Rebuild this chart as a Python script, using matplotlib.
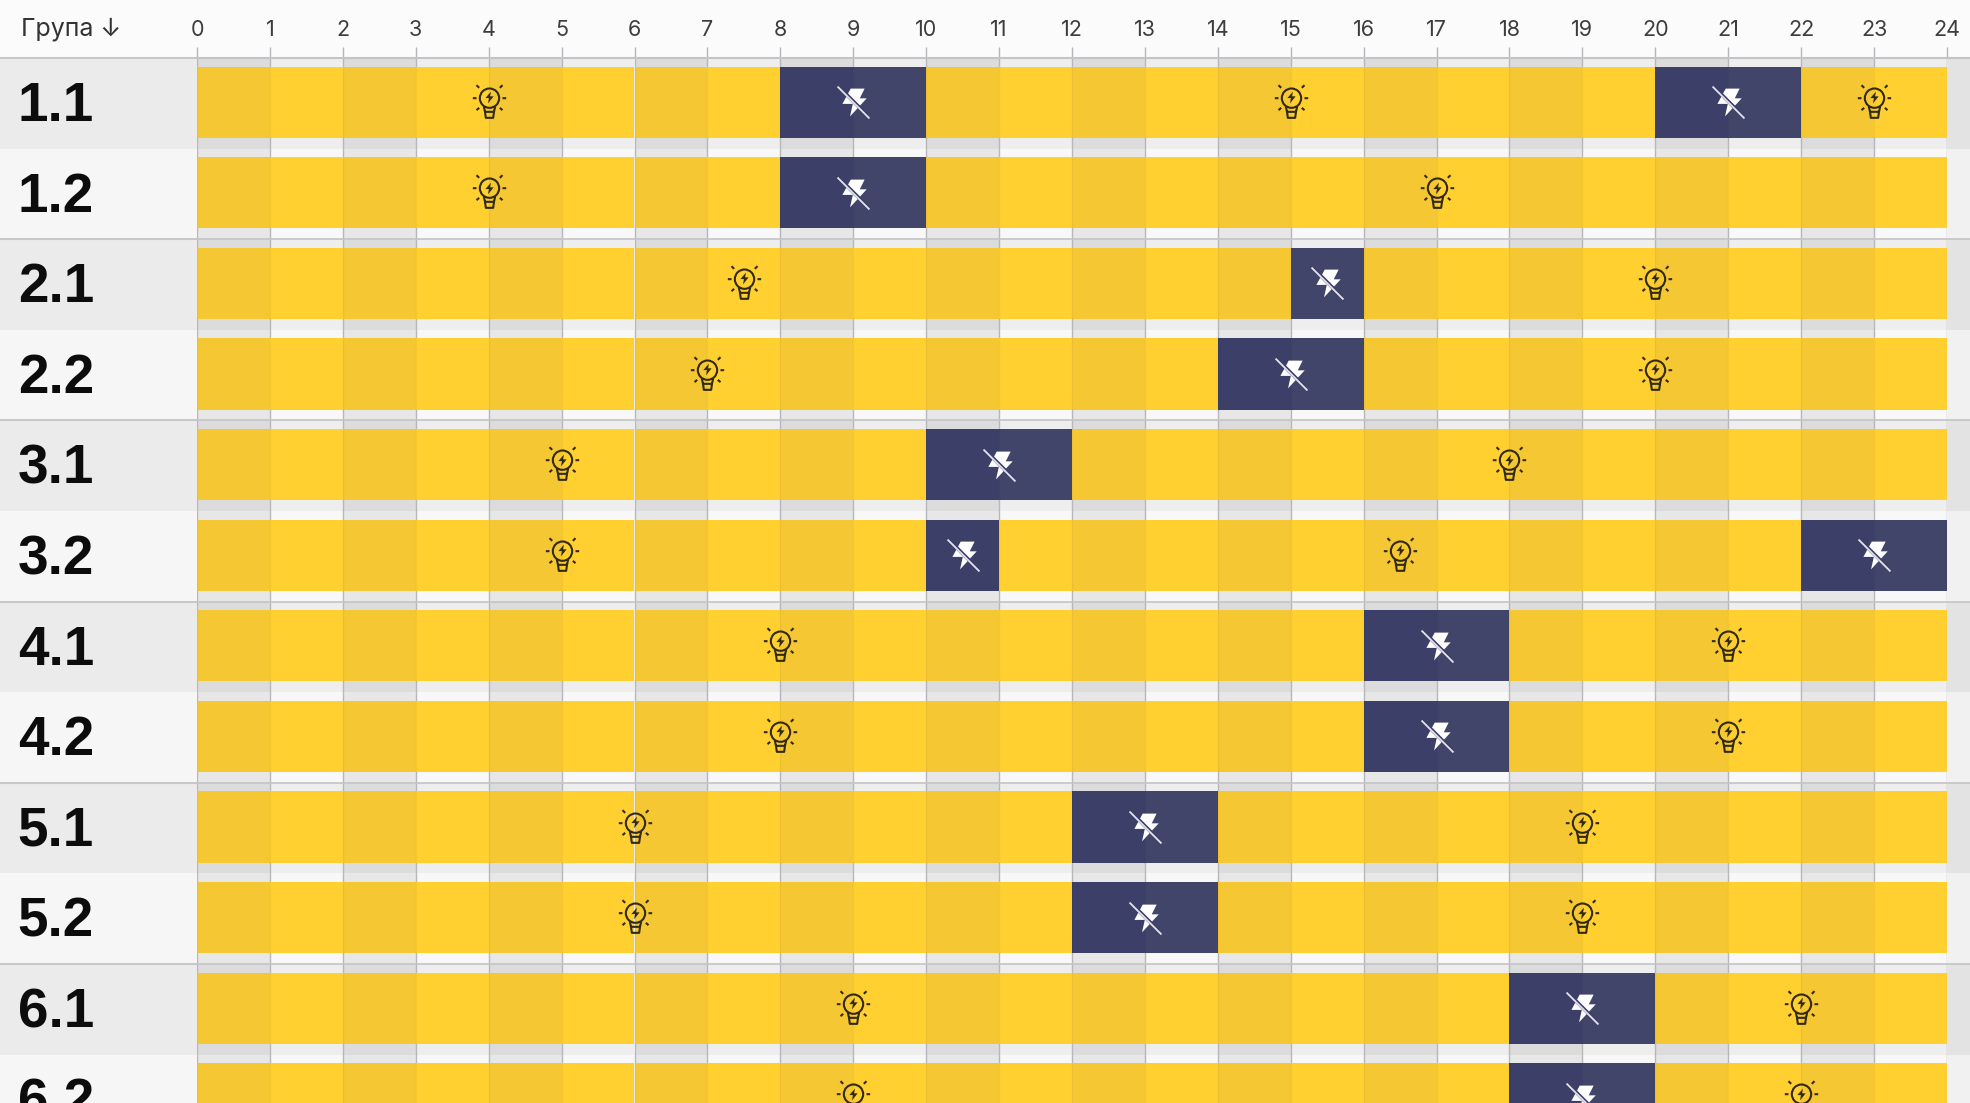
import matplotlib
matplotlib.use("Agg")
import matplotlib.pyplot as plt
from matplotlib.path import Path

plt.rcParams['font.family'] = ['Inter', 'Liberation Sans', 'DejaVu Sans']

groups = ["1.1","1.2","2.1","2.2","3.1","3.2","4.1","4.2","5.1","5.2","6.1","6.2"]
hours = list(range(25))
outages = [[(8,10),(20,22)], [(8,10)], [(15,16)], [(14,16)], [(10,12)], [(10,11),(22,24)],
           [(16,18)], [(16,18)], [(12,14)], [(12,14)], [(18,20)], [(18,20)]]
outage_icons = [[9,21],[9],[15.5],[15],[11],[10.5,23],[17],[17],[13],[13],[19],[19]]
power_icons = [[4,15,23],[4,17],[7.5,20],[7,20],[5,18],[5,16.5],[8,21],[8,21],[6,19],[6,19],[9,22],[9,22]]

W, H = 1970, 1103
LEFT, RIGHT, TOP = 197, 1947, 58
ROW_PX = 90.6
fig = plt.figure(figsize=(W/100, H/100), dpi=100, facecolor='#fbfbfb')
ax = fig.add_axes([LEFT/W, 0, (RIGHT-LEFT)/W, (H-TOP)/H])
ax.set_facecolor('none')
ax.set_xlim(0, 24)
n_vis = (H-TOP)/ROW_PX
ax.set_ylim(n_vis, 0)
for s in ax.spines.values():
    s.set_visible(False)

row_left = ['#ebebeb', '#f6f6f6']
row_right = ['#e3e3e3', '#f1f1f1']
cell_even = ['#dcdcdc', '#e7e7e7']
cell_odd = ['#eeeeee', '#f8f8f9']
x_px = (RIGHT-LEFT)/24
left_h = LEFT/x_px
right_h = (W-RIGHT)/x_px
BAR_TOP, BAR_H = 0.096, 0.784

for r, g in enumerate(groups):
    a = r % 2
    ax.barh(r+0.5, left_h, height=1, left=-left_h, color=row_left[a], clip_on=False, zorder=1)
    ax.barh(r+0.5, right_h, height=1, left=24, color=row_right[a], clip_on=False, zorder=1)
    for h in hours[:-1]:
        ax.barh(r+0.5, 1, height=1, left=h, color=(cell_even if h % 2 == 0 else cell_odd)[a], zorder=1, linewidth=0)

ax.set_xticks(hours)
ax.set_xticklabels([str(h) for h in hours])
ax.xaxis.tick_top()
ax.tick_params(axis='x', length=8, width=1, color='#b5b5b8', labelcolor='#3d3d3d', labelsize=15.5, pad=5)
ax.vlines(hours, 0, n_vis, color='#b8b8bc', lw=1, zorder=2)

for r, segs in enumerate(outages):
    for h in hours[:-1]:
        off = any(s <= h < e for s, e in segs)
        if off:
            c = '#3c3f68' if h % 2 == 0 else '#42456a'
        else:
            c = '#f4c733' if h % 2 == 0 else '#ffd02f'
        ax.barh(r+BAR_TOP+BAR_H/2, 1, height=BAR_H, left=h, color=c, linewidth=0, zorder=3)
for r in range(len(groups)):
    ax.vlines(hours, r+BAR_TOP, r+BAR_TOP+BAR_H, color='black', alpha=0.035, lw=1, zorder=4)

ax.set_yticks([r+0.475 for r in range(len(groups))])
ax.set_yticklabels(groups)
ax.tick_params(axis='y', length=0, pad=129, labelsize=39.5, labelcolor='#0c0c0c')
for t in ax.get_yticklabels():
    t.set_ha('left')
    t.set_fontweight('bold')
    t.set_family(['Liberation Sans', 'DejaVu Sans'])

# group separators
for r in range(0, len(groups), 2):
    ax.plot([-left_h, 0], [r, r], color='#c8c8cc', lw=1.5, clip_on=False, zorder=2)
    ax.plot([0, 24+right_h], [r, r], color='#c4c4c8', lw=1.2 if r else 1.5, clip_on=False, zorder=2)

ax.text(-left_h+21/x_px, -0.32, "Група ↓", fontsize=18, color='#333333', va='center', ha='left', clip_on=False)

# icons
M, L, C = Path.MOVETO, Path.LINETO, Path.CLOSEPOLY
verts, codes = [], []
def add(v, c):
    verts.extend(v); codes.extend(c)
circle = Path.unit_circle()
cv = circle.vertices*0.58 + [0, 0.2]
add(list(map(tuple, cv)), list(circle.codes))
add([(-0.27,-0.62),(0.27,-0.62),(0.22,-0.98),(-0.22,-0.98),(-0.27,-0.62)], [M,L,L,L,C])
for x0,y0,x1,y1 in [(-0.78,0.2,-1.0,0.2),(0.78,0.2,1.0,0.2),(-0.62,0.82,-0.78,0.98),(0.62,0.82,0.78,0.98),
                    (-0.62,-0.38,-0.78,-0.52),(0.62,-0.38,0.78,-0.52)]:
    add([(x0,y0),(x1,y1)], [M,L])
add([(-0.34,-0.3),(-0.27,-0.62)], [M,L])
add([(0.34,-0.3),(0.27,-0.62)], [M,L])
bulb = Path(verts, codes)
small_bolt = Path([(0.25,1),(-0.7,-0.1),(-0.1,-0.1),(-0.25,-1),(0.7,0.2),(0.1,0.2),(0.25,1)], [M,L,L,L,L,L,C])
bolt = Path([(-0.2,1),(0.8,1),(0.45,0.3),(0.95,0.3),(-0.25,-1),(-0.05,-0.1),(-0.8,-0.1),(-0.2,1)], [M,L,L,L,L,L,L,C])
slash = Path([(-1,1),(1,-1)], [M,L])

for r in range(len(groups)):
    y = r + BAR_TOP + BAR_H/2
    xs = power_icons[r]
    ys = [y-0.015]*len(xs)
    ax.plot(xs, ys, ls='none', marker=bulb, ms=24, mfc='none', mec='#332a12', mew=1.5, zorder=6)
    ax.plot(xs, [v-0.04 for v in ys], ls='none', marker=small_bolt, ms=8.5, mfc='#332a12', mec='none', zorder=6)
    xs = outage_icons[r]
    ys = [y]*len(xs)
    ax.plot(xs, ys, ls='none', marker=bolt, ms=20, mfc='white', mec='none', zorder=6)
    ax.plot(xs, [v-0.012 for v in ys], ls='none', marker=slash, ms=20, mec='#3c3f68', mew=2.6, zorder=7)
    ax.plot(xs, ys, ls='none', marker=slash, ms=23, mec='#e4e4ee', mew=1.3, zorder=8)

fig.savefig("out.png", dpi=100, facecolor=fig.get_facecolor())
